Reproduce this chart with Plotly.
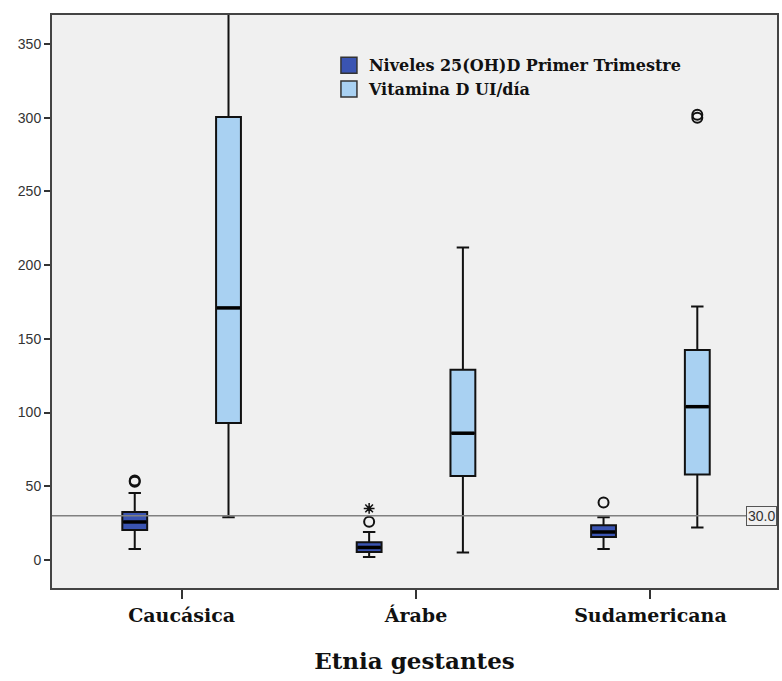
import plotly.graph_objects as go

categories = ["Caucásica", "Árabe", "Sudamericana"]
series_names = ["Niveles 25(OH)D Primer Trimestre", "Vitamina D UI/día"]
series_colors = ["#3a54b2", "#a9d1f2"]

# Niveles 25(OH)D Primer Trimestre
n_low = [7.5, 2.0, 7.5]
n_q1 = [20.3, 5.5, 15.6]
n_med = [25.8, 8.5, 19.0]
n_q3 = [32.6, 12.0, 23.5]
n_high = [45.4, 19.0, 29.0]
n_out_circle = [[53, 54], [26], [39]]
n_out_star = [[], [35], []]

# Vitamina D UI/día
v_low = [29, 5, 22]
v_q1 = [93, 57, 58]
v_med = [171, 86, 104]
v_q3 = [300.5, 129, 142.5]
v_high = [372, 212, 172]
v_out_circle = [[], [], [300, 302]]

ref_value = 30.0

pos = [0, 1, 2]
off = 0.2
bw = 0.106

fig = go.Figure()
fig.add_trace(go.Box(
    x=[p - off for p in pos], q1=n_q1, median=n_med, q3=n_q3,
    lowerfence=n_low, upperfence=n_high, width=bw, whiskerwidth=0.5,
    fillcolor=series_colors[0], line=dict(color="#111111", width=2),
    name=series_names[0], boxpoints=False, hoverinfo="skip", showlegend=False))
fig.add_trace(go.Box(
    x=[p + off for p in pos], q1=v_q1, median=v_med, q3=v_q3,
    lowerfence=v_low, upperfence=v_high, width=bw, whiskerwidth=0.5,
    fillcolor=series_colors[1], line=dict(color="#111111", width=2),
    name=series_names[1], boxpoints=False, hoverinfo="skip", showlegend=False))

# thicker median lines
mx, my = [], []
for i, p in enumerate(pos):
    for c, m in ((p - off, n_med[i]), (p + off, v_med[i])):
        mx += [c - bw / 2 + 0.004, c + bw / 2 - 0.004, None]
        my += [m, m, None]
fig.add_trace(go.Scatter(x=mx, y=my, mode="lines", showlegend=False,
                         line=dict(color="#000000", width=3.5), hoverinfo="skip"))

ox, oy, sx, sy = [], [], [], []
for i, p in enumerate(pos):
    for v in n_out_circle[i]:
        ox.append(p - off); oy.append(v)
    for v in n_out_star[i]:
        sx.append(p - off); sy.append(v)
    for v in v_out_circle[i]:
        ox.append(p + off); oy.append(v)

fig.add_trace(go.Scatter(x=ox, y=oy, mode="markers", showlegend=False,
                         marker=dict(symbol="circle-open", size=10, color="#111111",
                                     line=dict(width=2, color="#111111"))))
fig.add_trace(go.Scatter(x=sx, y=sy, mode="markers", showlegend=False,
                         marker=dict(symbol="asterisk-open", size=9, color="#111111",
                                     line=dict(width=1.5, color="#111111"))))

# legend entries (square swatches)
for name, col in zip(series_names, series_colors):
    fig.add_trace(go.Scatter(x=[None], y=[None], mode="markers", name=name,
                             marker=dict(symbol="square", size=16, color=col,
                                         line=dict(color="#333333", width=1.5))))

fig.add_shape(type="line", xref="paper", x0=0, x1=1, yref="y", y0=ref_value, y1=ref_value,
              line=dict(color="#808080", width=1.5))
fig.add_annotation(xref="paper", x=1, xanchor="right", yref="y", y=ref_value,
                   text=f"{ref_value:.1f}", showarrow=False, bgcolor="#f0f0f0",
                   bordercolor="#555555", borderwidth=1, borderpad=1,
                   font=dict(family="Liberation Sans, Arial", size=14, color="#333333"))

serif = "DejaVu Serif, serif"
fig.update_layout(
    width=782, height=681,
    margin=dict(l=52, r=3, t=15, b=93),
    paper_bgcolor="white", plot_bgcolor="#f0f0f0",
    showlegend=True,
    legend=dict(x=0.382, y=0.942, xanchor="left", yanchor="top", itemwidth=30,
                bgcolor="rgba(0,0,0,0)", tracegroupgap=0,
                font=dict(family=serif, size=16, color="#111111", weight="bold")),
    xaxis=dict(range=[-0.553, 2.54], tickvals=pos, ticktext=categories,
               showgrid=False, zeroline=False, ticks="outside", ticklen=9,
               tickwidth=1.5, tickcolor="#333333",
               showline=True, linecolor="#444444", linewidth=2, mirror=True,
               tickfont=dict(family=serif, size=19, color="#111111", weight="bold"),
               title=dict(text="Etnia gestantes", standoff=28,
                          font=dict(family=serif, size=23, color="#111111", weight="bold"))),
    yaxis=dict(range=[-19.0, 369.7], tickvals=[0, 50, 100, 150, 200, 250, 300, 350],
               showgrid=False, zeroline=False, ticks="outside", ticklen=6,
               tickwidth=1.5, tickcolor="#333333",
               showline=True, linecolor="#444444", linewidth=2, mirror=True,
               tickfont=dict(family="Liberation Sans, Arial", size=14, color="#333333")),
)

fig.write_html("out.html", config={"displayModeBar": False})

with open("out.html", "r", encoding="utf-8") as f:
    html = f.read()
html = html.replace("<body>", '<body style="margin:0;padding:0;overflow:hidden">', 1)
with open("out.html", "w", encoding="utf-8") as f:
    f.write(html)
